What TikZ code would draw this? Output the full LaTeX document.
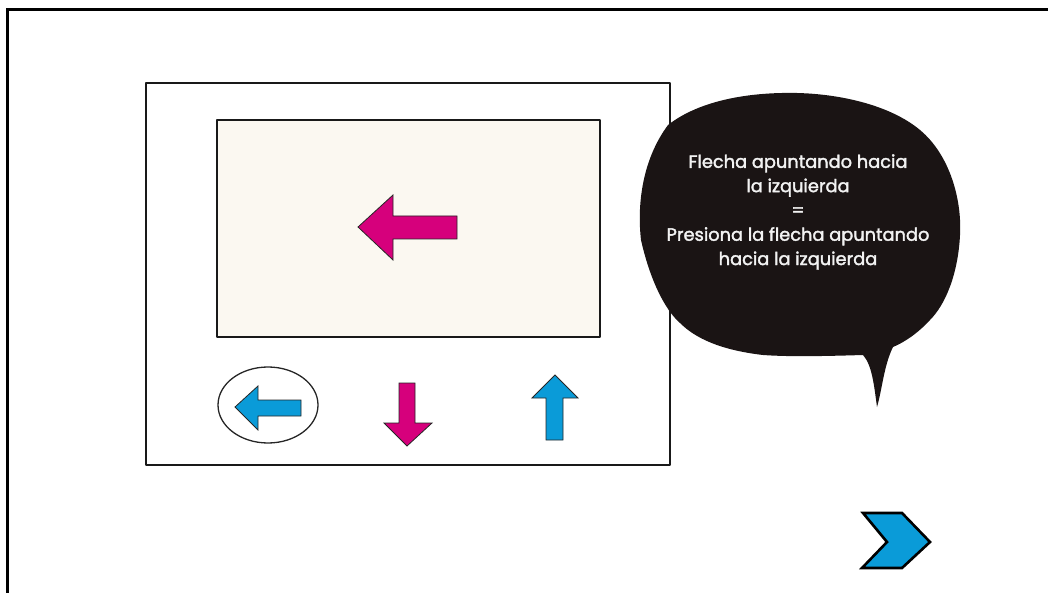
\documentclass[tikz,border=0pt]{standalone}
\usepackage{fontspec}
\usetikzlibrary{shapes.geometric}
\newfontfamily\bubblefont{Poppins}[FakeBold=2]
\definecolor{magentaA}{HTML}{D6007C}
\definecolor{blueA}{HTML}{0A9BD8}
\definecolor{screenbg}{HTML}{FBF8F1}
\definecolor{bubblebg}{HTML}{1A1414}
\tikzset{
  sketchline/.style={draw=black!90, line width=1.6pt, line join=round},
  magarrow/.style={fill=magentaA, draw=black!85, line width=0.8pt, line join=miter},
  bluearrow/.style={fill=blueA, draw=black!85, line width=0.8pt, line join=miter},
  bubbletext/.style={text=white!95!black, align=center, font=\bubblefont\fontsize{17.8}{24.3}\selectfont}
}
\begin{document}
\begin{tikzpicture}[x=1pt,y=-1pt]
\useasboundingbox (0,0) rectangle (1048,593);
% outer border
\draw[line width=3pt, line cap=rect] (7,600) -- (7,10) -- (1050,10);
% device frame
\node[sketchline, minimum width=524pt, minimum height=382pt, inner sep=0pt, anchor=north west] (device) at (145,82) {};
% screen
\node[sketchline, fill=screenbg, minimum width=383pt, minimum height=217pt, inner sep=0pt, anchor=north west] (screen) at (216,119) {};
% big magenta left arrow
\draw[magarrow] (358,227) -- (393,195) -- (393,216) -- (457,216) -- (457,239) -- (393,239) -- (393,260) -- cycle;
% circled blue left arrow
\node[draw=black!85, line width=1.3pt, ellipse, minimum width=100pt, minimum height=76pt, inner sep=0pt] (circ) at (268,405) {};
\draw[bluearrow] (235,407) -- (258,386) -- (258,400) -- (301,400) -- (301,416) -- (258,416) -- (258,430) -- cycle;
% magenta down arrow
\draw[magarrow] (399,383) -- (415,383) -- (415,423) -- (432,423) -- (407,446) -- (384,423) -- (399,423) -- cycle;
% blue up arrow
\draw[bluearrow] (555,375) -- (578,398) -- (563,398) -- (563,440) -- (546,440) -- (546,398) -- (532,398) -- cycle;
% speech bubble
\fill[bubblebg] (893,347) .. controls (884,365) and (882,390) .. (877,407)
  .. controls (874,385) and (872,365) .. (863,355)
  .. controls (830,356) and (790,357) .. (763,355)
  .. controls (720,350) and (695,338) .. (680,323)
  .. controls (665,310) and (650,280) .. (641,240)
  .. controls (637,205) and (642,160) .. (668,125)
  .. controls (700,100) and (750,92) .. (797,93)
  .. controls (840,94) and (890,105) .. (920,130)
  .. controls (950,155) and (962,200) .. (960,235)
  .. controls (958,275) and (945,305) .. (930,320)
  .. controls (918,333) and (905,342) .. (893,347) -- cycle;
\node[bubbletext] (bubble) at (798,212) {Flecha apuntando hacia\\la izquierda\\=\\Presiona la flecha apuntando\\hacia la izquierda};
% next chevron
\draw[fill=blueA, draw=black, line width=2.6pt, line join=miter] (863,513) -- (902,513) -- (930,542) -- (902,568) -- (862,568) -- (887,542) -- cycle;
\end{tikzpicture}
\end{document}
